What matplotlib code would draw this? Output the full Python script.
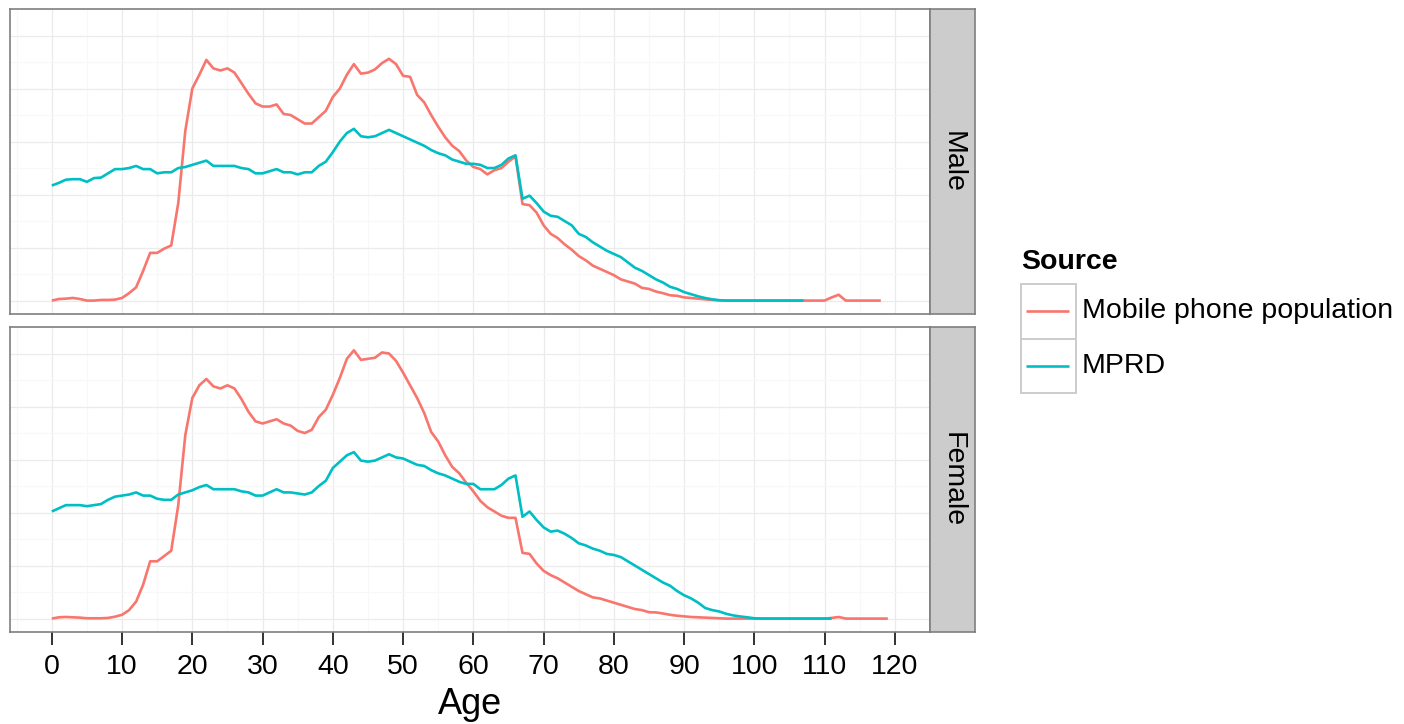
import numpy as np
import matplotlib
matplotlib.use("Agg")
import matplotlib.pyplot as plt
from matplotlib.patches import Rectangle

plt.rcParams['font.family'] = ['Liberation Sans', 'DejaVu Sans']

# ---------------- data (percent of population by age) ----------------
series_names = ["Mobile phone population", "MPRD"]
series_colors = ["#F8766D", "#00BFC4"]
panel_labels = ["Male", "Female"]
x_ticks = list(range(0, 121, 10))

male_mobile = [
    0.0, 0.015, 0.018, 0.025, 0.015, 0.0, 0.0, 0.006, 0.006, 0.009,
    0.025, 0.07, 0.125, 0.28, 0.45, 0.45, 0.49, 0.52, 0.92, 1.60,
    2.00, 2.13, 2.27, 2.19, 2.17, 2.19, 2.15, 2.05, 1.95, 1.86,
    1.83, 1.83, 1.85, 1.76, 1.75, 1.71, 1.67, 1.67, 1.73, 1.79,
    1.92, 2.00, 2.13, 2.23, 2.14, 2.15, 2.18, 2.24, 2.28, 2.23,
    2.12, 2.11, 1.94, 1.87, 1.75, 1.64, 1.54, 1.46, 1.41, 1.32,
    1.26, 1.24, 1.19, 1.23, 1.25, 1.31, 1.36, 0.91, 0.90, 0.83,
    0.71, 0.63, 0.59, 0.53, 0.48, 0.42, 0.38, 0.33, 0.30, 0.27,
    0.24, 0.20, 0.18, 0.16, 0.12, 0.11, 0.085, 0.07, 0.05, 0.045,
    0.03, 0.024, 0.018, 0.012, 0.006, 0.003, 0, 0, 0, 0,
    0, 0, 0, 0, 0, 0, 0, 0, 0, 0,
    0, 0.03, 0.055, 0, 0, 0, 0, 0, 0,
]
male_mprd = [
    1.085, 1.11, 1.14, 1.145, 1.145, 1.12, 1.155, 1.16, 1.20, 1.24,
    1.24, 1.25, 1.27, 1.24, 1.24, 1.20, 1.21, 1.21, 1.25, 1.26,
    1.28, 1.30, 1.32, 1.27, 1.27, 1.27, 1.27, 1.25, 1.24, 1.20,
    1.20, 1.22, 1.24, 1.21, 1.21, 1.19, 1.21, 1.21, 1.27, 1.31,
    1.40, 1.50, 1.58, 1.62, 1.55, 1.54, 1.55, 1.58, 1.61, 1.58,
    1.55, 1.52, 1.49, 1.46, 1.42, 1.39, 1.37, 1.33, 1.31, 1.29,
    1.29, 1.28, 1.25, 1.25, 1.28, 1.34, 1.37, 0.96, 0.99, 0.92,
    0.84, 0.80, 0.79, 0.75, 0.71, 0.63, 0.60, 0.55, 0.51, 0.47,
    0.44, 0.41, 0.36, 0.31, 0.28, 0.24, 0.20, 0.17, 0.13, 0.11,
    0.08, 0.06, 0.04, 0.024, 0.012, 0.003, 0, 0, 0, 0,
    0, 0, 0, 0, 0, 0, 0, 0,
]
female_mobile = [
    0.0, 0.012, 0.015, 0.012, 0.009, 0.003, 0.003, 0.003, 0.006, 0.018,
    0.036, 0.08, 0.16, 0.32, 0.54, 0.54, 0.59, 0.64, 1.07, 1.73,
    2.08, 2.20, 2.26, 2.19, 2.17, 2.20, 2.17, 2.07, 1.95, 1.86,
    1.84, 1.86, 1.88, 1.84, 1.82, 1.77, 1.75, 1.78, 1.90, 1.97,
    2.11, 2.27, 2.45, 2.53, 2.44, 2.45, 2.46, 2.51, 2.50, 2.43,
    2.32, 2.20, 2.08, 1.94, 1.76, 1.67, 1.54, 1.43, 1.37, 1.28,
    1.20, 1.11, 1.05, 1.01, 0.97, 0.95, 0.95, 0.62, 0.61, 0.52,
    0.45, 0.41, 0.38, 0.34, 0.30, 0.26, 0.23, 0.20, 0.19, 0.17,
    0.15, 0.13, 0.11, 0.09, 0.08, 0.06, 0.058, 0.048, 0.036, 0.027,
    0.021, 0.015, 0.012, 0.009, 0.006, 0.003, 0, 0, 0, 0,
    0, 0, 0, 0, 0, 0, 0, 0, 0, 0,
    0, 0.006, 0.015, 0, 0, 0, 0, 0, 0, 0,
]
female_mprd = [
    1.01, 1.04, 1.07, 1.07, 1.07, 1.06, 1.07, 1.08, 1.12, 1.15,
    1.16, 1.17, 1.19, 1.16, 1.16, 1.13, 1.12, 1.12, 1.17, 1.19,
    1.21, 1.24, 1.26, 1.22, 1.22, 1.22, 1.22, 1.20, 1.19, 1.16,
    1.16, 1.19, 1.22, 1.19, 1.19, 1.18, 1.17, 1.19, 1.25, 1.30,
    1.42, 1.48, 1.54, 1.57, 1.49, 1.48, 1.49, 1.52, 1.55, 1.52,
    1.51, 1.48, 1.45, 1.44, 1.40, 1.37, 1.35, 1.32, 1.29, 1.27,
    1.27, 1.22, 1.22, 1.22, 1.26, 1.32, 1.35, 0.96, 1.01, 0.93,
    0.86, 0.82, 0.83, 0.80, 0.76, 0.71, 0.69, 0.66, 0.64, 0.61,
    0.60, 0.58, 0.54, 0.50, 0.46, 0.42, 0.38, 0.34, 0.31, 0.26,
    0.22, 0.19, 0.15, 0.10, 0.08, 0.067, 0.045, 0.03, 0.02, 0.012,
    0.003, 0, 0, 0, 0, 0, 0, 0, 0, 0,
    0, 0,
]

panels = [
    [male_mobile, male_mprd],
    [female_mobile, female_mprd],
]

# ---------------- figure ----------------
W, H = 1404, 724
fig = plt.figure(figsize=(W / 100, H / 100), dpi=100)
fig.patch.set_facecolor("white")

def rect(x0, y0, x1, y1):
    return [x0 / W, 1 - y1 / H, (x1 - x0) / W, (y1 - y0) / H]

panel_px = [(10, 9, 930, 314), (10, 327, 930, 632)]
strip_px = [(930, 9, 975, 314), (930, 327, 975, 632)]

all_vals = [v for p in panels for s in p for v in s]
ymax = max(all_vals)
ymin = 0.0
yr = ymax - ymin
ylim = (ymin - 0.05 * yr, ymax + 0.05 * yr)
xmax = max(len(s) - 1 for p in panels for s in p)
xr = xmax - 0
xlim = (0 - 0.05 * xr, xmax + 0.05 * xr)

border_col = "#7F7F7F"
for i, (pp, sp, label) in enumerate(zip(panel_px, strip_px, panel_labels)):
    ax = fig.add_axes(rect(*pp))
    ax.set_facecolor("white")
    ax.set_xlim(*xlim)
    ax.set_ylim(*ylim)
    ax.set_xticks(x_ticks)
    ax.set_xticks(np.arange(-5, 126, 10), minor=True)
    ax.set_yticks(np.arange(0, 2.51, 0.5))
    ax.set_yticks(np.arange(0.25, 2.76, 0.5), minor=True)
    ax.grid(True, which="major", color="#EBEBEB", linewidth=0.9)
    ax.grid(True, which="minor", color="#F8F8F8", linewidth=0.9)
    ax.set_axisbelow(True)
    for s in ax.spines.values():
        s.set_color(border_col)
        s.set_linewidth(1.2)
    ax.tick_params(axis="y", which="both", left=False, labelleft=False)
    ax.tick_params(axis="x", which="minor", bottom=False)
    if i == 0:
        ax.tick_params(axis="x", which="major", bottom=False, labelbottom=False)
    else:
        ax.tick_params(axis="x", which="major", length=9.5, width=1.3,
                       color="#222222", pad=6, labelsize=20.5,
                       labelcolor="black")
    for series, col in zip(panels[i], series_colors):
        ax.plot(np.arange(len(series)), series, color=col, linewidth=1.9,
                solid_joinstyle="round", solid_capstyle="butt")

    sax = fig.add_axes(rect(*sp))
    sax.set_facecolor("#CCCCCC")
    sax.set_xticks([])
    sax.set_yticks([])
    for s in sax.spines.values():
        s.set_color(border_col)
        s.set_linewidth(1.2)
    sax.text(0.5, 0.5, label, rotation=270, ha="center", va="center",
             fontsize=20.5, transform=sax.transAxes, color="black")

fig.text(470 / W, 1 - 705 / H, "Age", ha="center", va="center", fontsize=26)

# ---------------- legend ----------------
lax = fig.add_axes([0, 0, 1, 1], zorder=10)
lax.set_xlim(0, W)
lax.set_ylim(H, 0)
lax.axis("off")
lax.text(1021, 262, "Source", fontsize=20.5, fontweight="bold",
         ha="left", va="center")
key_top = 284
key_h = 54.5
for j, (name, col) in enumerate(zip(series_names, series_colors)):
    y0 = key_top + j * key_h
    lax.add_patch(Rectangle((1020.5, y0), 55, key_h, facecolor="white",
                            edgecolor="#CCCCCC", linewidth=1.4))
    lax.plot([1026, 1069], [y0 + key_h / 2, y0 + key_h / 2], color=col,
             linewidth=1.9, solid_capstyle="butt")
    lax.text(1082, y0 + key_h / 2, name, fontsize=20.5, ha="left",
             va="center")

fig.savefig("out.png", dpi=100, facecolor="white")
